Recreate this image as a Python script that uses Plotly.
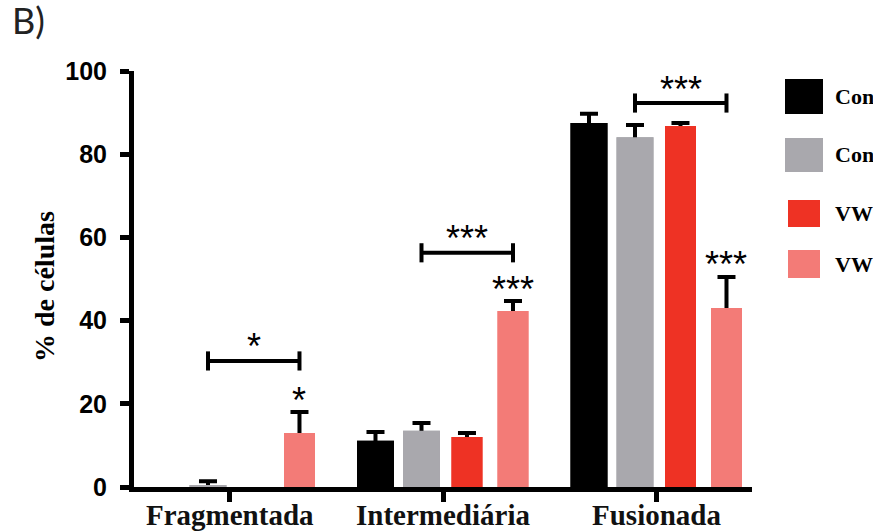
import plotly.graph_objects as go

# ---------------- data ----------------
categories = ["Fragmentada", "Intermediária", "Fusionada"]
series_names = ["Controle", "Controle + veículo", "VW 10 µM", "VW 20 µM"]

controle = [0.0, 11.1, 87.5]
controle_err = [0.0, 2.1, 2.2]
controle_veiculo = [0.4, 13.5, 84.1]
controle_veiculo_err = [1.0, 1.9, 2.9]
vw_baixa = [0.0, 12.0, 86.8]
vw_baixa_err = [0.0, 1.0, 0.7]
vw_alta = [13.0, 42.3, 43.0]
vw_alta_err = [5.0, 2.4, 7.5]

# significance: bracket level (% de células) and labels
bracket_levels = [30.3, 56.3, 92.3]
bracket_labels = ["*", "***", "***"]
bar_labels = ["*", "***", "***"]

y_ticks = [0, 20, 40, 60, 80, 100]

# ---------------- styles ----------------
colors = ["#000000", "#a9a8ad", "#ee3224", "#f37b77"]
centers = [-0.3185, -0.103, 0.110, 0.3255]   # bar centre offsets within a group
widths = [0.173, 0.173, 0.145, 0.145]

values = [controle, controle_veiculo, vw_baixa, vw_alta]
errors = [controle_err, controle_veiculo_err, vw_baixa_err, vw_alta_err]

W, H = 873, 531
L, R, T, B = 134, 752, 71, 487
xr = [-0.4496, 2.445]


def px2x(px):
    return (px - L) / (R - L)


def py2y(py):
    return (B - py) / (B - T)


serif = "Liberation Serif"
sans = "Liberation Sans"

fig = go.Figure()
xs = list(range(len(categories)))
# bars with (symmetric) error bars
for i in range(4):
    y_plot = [v if v > 0 else None for v in values[i]]
    err_plot = [e if v > 0 else None for v, e in zip(values[i], errors[i])]
    fig.add_trace(go.Bar(
        x=xs, y=y_plot, name=series_names[i],
        width=widths[i], offset=centers[i] - widths[i] / 2,
        marker=dict(color=colors[i], line=dict(width=0)),
        error_y=dict(type="data", array=err_plot, color="#000000",
                     thickness=4, width=9),
        showlegend=False,
    ))
# same bars again on top: hide the lower half of each error bar (one-sided look)
for i in range(4):
    y_plot = [v if v > 0 else None for v in values[i]]
    fig.add_trace(go.Bar(
        x=xs, y=y_plot, name=series_names[i],
        width=widths[i], offset=centers[i] - widths[i] / 2,
        marker=dict(color=colors[i], line=dict(width=0)),
        showlegend=False, hoverinfo="skip",
    ))

shapes = []
annotations = []
for g in range(len(categories)):
    x0 = g + centers[1]
    x1 = g + centers[3]
    yb = bracket_levels[g]
    lw = 4
    shapes.append(dict(type="line", xref="x", yref="y", x0=x0, x1=x1, y0=yb, y1=yb,
                       line=dict(color="#000", width=lw)))
    for xe in (x0, x1):
        shapes.append(dict(type="line", xref="x", yref="y", x0=xe, x1=xe,
                           y0=yb - 2.3, y1=yb + 2.3, line=dict(color="#000", width=lw)))
    annotations.append(dict(x=(x0 + x1) / 2, y=yb, xref="x", yref="y",
                            text=bracket_labels[g], showarrow=False,
                            yanchor="middle", yshift=14,
                            font=dict(family=sans, size=36, color="#000")))
    top = vw_alta[g] + vw_alta_err[g]
    annotations.append(dict(x=x1, y=top, xref="x", yref="y",
                            text=bar_labels[g], showarrow=False,
                            yanchor="middle", yshift=12,
                            font=dict(family=sans, size=36, color="#000")))
    # category label under the axis
    annotations.append(dict(x=g, y=py2y(515), xref="x", yref="paper",
                            text=categories[g], showarrow=False,
                            yanchor="middle",
                            font=dict(family=serif, size=29, color="#111", weight="bold")))

# custom legend (large square swatches)
leg_boxes = [(785, 823, 79, 114), (785, 823, 138, 172), (788, 820, 200, 227), (788, 820, 250, 278)]
for i, (a, b, c, d) in enumerate(leg_boxes):
    shapes.append(dict(type="rect", xref="paper", yref="paper",
                       x0=px2x(a), x1=px2x(b), y0=py2y(d), y1=py2y(c),
                       fillcolor=colors[i], line=dict(width=0)))
    annotations.append(dict(x=px2x(833), y=py2y((c + d) / 2), xref="paper", yref="paper",
                            text=series_names[i], showarrow=False, xanchor="left",
                            yanchor="middle",
                            font=dict(family=serif, size=22, color="#000", weight="bold")))

# y-axis title
annotations.append(dict(x=px2x(44), y=py2y(287), xref="paper", yref="paper",
                        text="% de células", textangle=-90, showarrow=False,
                        xanchor="center", yanchor="middle",
                        font=dict(family=serif, size=28, color="#000", weight="bold")))
# panel letter
annotations.append(dict(x=px2x(10), y=py2y(-4), xref="paper", yref="paper",
                        text="B)", showarrow=False, xanchor="left", yanchor="top",
                        font=dict(family="Lato", size=36, color="#222")))

fig.update_layout(
    width=W, height=H,
    margin=dict(l=L, r=W - R, t=T, b=H - B, pad=0, autoexpand=False),
    plot_bgcolor="white", paper_bgcolor="white",
    barmode="overlay",
    shapes=shapes, annotations=annotations,
    showlegend=False,
)
fig.update_xaxes(range=xr, tickvals=xs, showticklabels=False, automargin=False,
                 showgrid=False, zeroline=False,
                 showline=True, linecolor="#000", linewidth=5,
                 ticks="outside", ticklen=10, tickwidth=5, tickcolor="#000")
fig.update_yaxes(range=[0, 100], tickvals=y_ticks, automargin=False,
                 showgrid=False, zeroline=False,
                 showline=True, linecolor="#000", linewidth=5,
                 ticks="outside", ticklen=9, tickwidth=5, tickcolor="#000",
                 ticklabelstandoff=8,
                 tickfont=dict(family=sans, size=25, color="#000", weight="bold"))

fig.write_html("out.html", config={"displayModeBar": False},
               post_script="document.body.style.margin='0px';")
